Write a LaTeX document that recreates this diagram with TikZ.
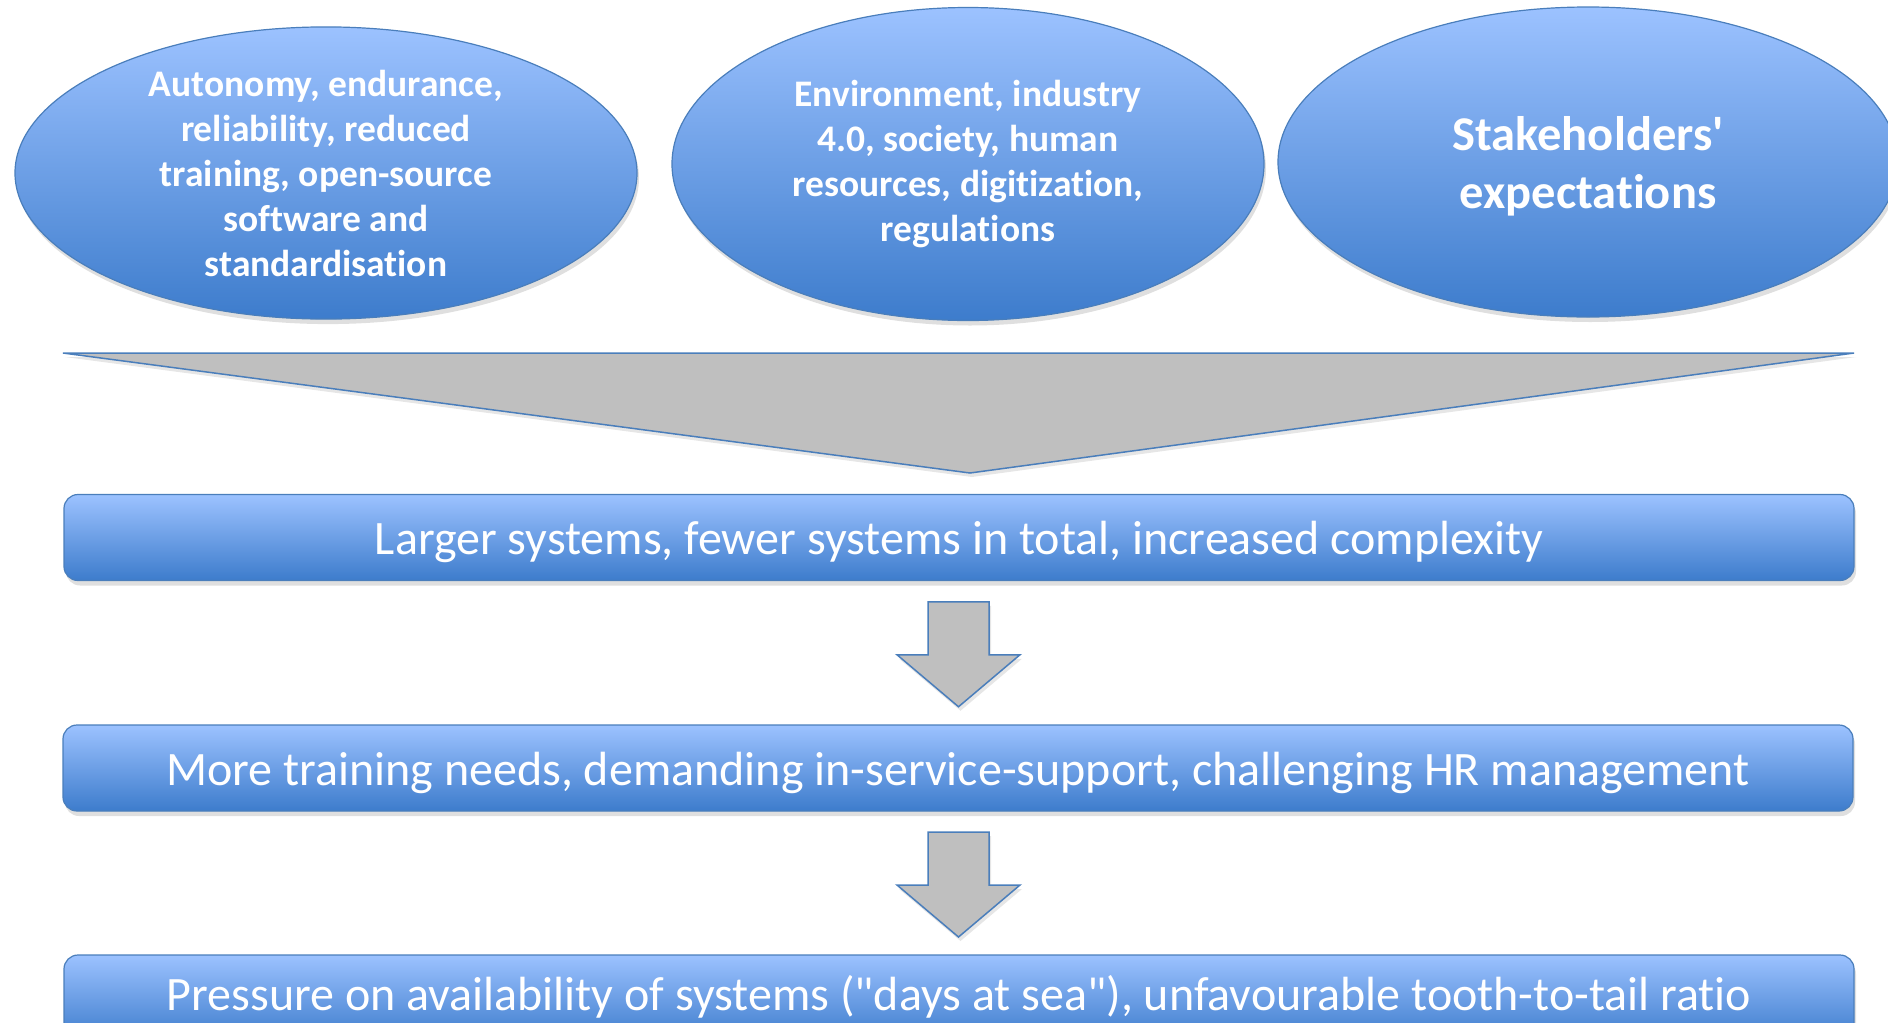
\documentclass[tikz,border=0pt]{standalone}
\usepackage{fontspec}
\setmainfont{Carlito}[Ligatures=NoCommon]
\usetikzlibrary{shapes.geometric,shadows,calc}

\definecolor{bluetop}{HTML}{9CC2FF}
\definecolor{bluebot}{HTML}{3D7CCC}
\definecolor{blueline}{HTML}{4A7EBB}
\definecolor{greyfill}{HTML}{BFBFBF}

\tikzset{
  bubble/.style={ellipse, draw=blueline, line width=1.2pt, top color=bluetop, bottom color=bluebot,
    text=white, align=center, inner sep=0pt, font=\bfseries\fontsize{37.5}{45}\selectfont,
    drop shadow={opacity=0.25, shadow xshift=2pt, shadow yshift=-5pt}},
  bar/.style={rectangle, rounded corners=14pt, draw=blueline, line width=1.2pt, top color=bluetop,
    bottom color=bluebot, text=white, inner sep=0pt, minimum width=1790pt, minimum height=86pt,
    font=\fontsize{48}{54}\selectfont, text height=40pt, text depth=6pt,
    drop shadow={opacity=0.25, shadow xshift=2pt, shadow yshift=-5pt}},
  blockarrow/.style={draw=blueline, line width=1.5pt, fill=greyfill,
    drop shadow={opacity=0.2, shadow xshift=2pt, shadow yshift=-4pt}}
}

\begin{document}
\begin{tikzpicture}[x=1pt,y=-1pt]

\useasboundingbox (0,0) rectangle (1888,1023);
\clip (0,0) rectangle (1888,1023);

\node[bubble, minimum width=622pt, minimum height=288pt] (expA) at (326,173) {Autonomy, endurance,\\reliability, reduced\\training, open-source\\software and\\standardisation};
\node[bubble, minimum width=592pt, minimum height=313pt] (expB) at (968,164) {Environment, industry\\4.0, society, human\\resources, digitization,\\regulations};
\node[bubble, minimum width=620pt, minimum height=310pt, font=\bfseries\fontsize{48.5}{58}\selectfont] (expC) at (1588,162) {\raisebox{-12pt}[0pt][0pt]{\begin{tabular}{@{}c@{}}Stakeholders\textquotesingle\\expectations\end{tabular}}};

\draw[blockarrow] (63,353) -- (1854,353) -- (970,473) -- cycle;

\node[bar] (bar1) at (959,537.5) {Larger systems, fewer systems in total, increased complexity};
\node[bar] (bar2) at (958,768) {More training needs, demanding in-service-support, challenging HR management};
\node[bar, text height=30pt] (bar3) at (959,998) {Pressure on availability of systems (\textquotedbl days at sea\textquotedbl), unfavourable tooth-to-tail ratio};

\foreach \a/\b in {bar1/bar2, bar2/bar3}{
  \path (\a.south) -- (\b.north) coordinate[pos=.5] (mid);
  \draw[blockarrow] ($(mid)+(-30.5,-51)$) -- ++(61,0) -- ++(0,53) -- ++(31,0) -- ++(-61.5,52) -- ++(-61.5,-52) -- ++(31,0) -- cycle;
}
\end{tikzpicture}
\end{document}
